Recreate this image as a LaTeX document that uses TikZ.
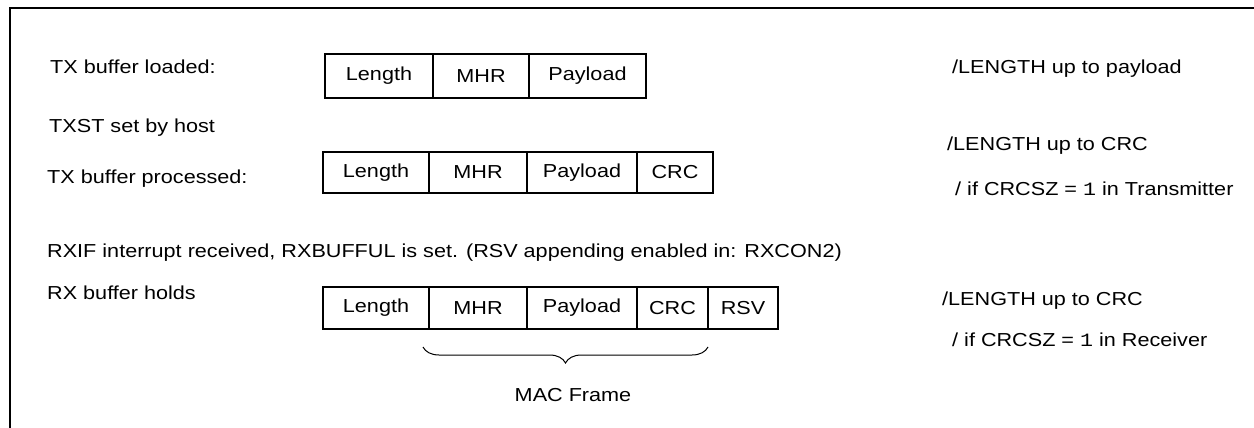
\documentclass[tikz,border=0pt]{standalone}
\usepackage{fontspec}
\setmainfont[FakeStretch=1.15]{Liberation Sans}
\newfontfamily\digitfont[FakeStretch=1.15]{Liberation Mono}
\usetikzlibrary{decorations.pathreplacing}
\begin{document}
\begin{tikzpicture}[x=1pt,y=-1pt,
  font=\fontsize{18.8}{22}\selectfont,
  frameline/.style={line width=2.5pt},
  cell/.style={draw, line width=1.6pt, inner sep=0pt},
  lbl/.style={anchor=base west, inner sep=0pt},
  bracestyle/.style={line width=1pt, decorate, decoration={brace, mirror, amplitude=16pt}}]
\useasboundingbox (0,0) rectangle (1254,428);
% frame (open at right and bottom)
\coordinate (fb) at (10,428);
\coordinate (ftl) at (10,8);
\coordinate (ftr) at (1254,8);
\draw[frameline] (fb) -- (ftl) -- (ftr);

% row 1
\node[lbl] (l1) at (50,74) {TX buffer loaded:};
\node[cell, minimum width=108pt, minimum height=44pt] (a1) at (379,76) {Length};
\node[cell, minimum width=96pt,  minimum height=44pt] (a2) at (481,76) {MHR};
\node[cell, minimum width=117pt, minimum height=44pt] (a3) at (587.5,76) {Payload};
\node[lbl] (r1) at (952,74) {/LENGTH up to payload};

\node[lbl] (l2) at (49,132) {TXST set by host};

% row 2
\node[lbl] (l3) at (47,183) {TX buffer processed:};
\node[cell, minimum width=106pt, minimum height=41pt] (b1) at (376,172.5) {Length};
\node[cell, minimum width=98pt,  minimum height=41pt] (b2) at (478,172.5) {MHR};
\node[cell, minimum width=110pt, minimum height=41pt] (b3) at (582,172.5) {Payload};
\node[cell, minimum width=76pt,  minimum height=41pt] (b4) at (675,172.5) {CRC};
\node[lbl] (r2) at (947,150) {/LENGTH up to CRC};
\node[lbl] (r3) at (955,195) {/ if CRCSZ = {\digitfont 1} in Transmitter};

% row 3
\node[lbl] (l4) at (47,257) {RXIF interrupt received, RXBUFFUL is set. (RSV appending enabled in: RXCON2)};
\node[lbl] (l5) at (47,299) {RX buffer holds};
\node[cell, minimum width=106pt, minimum height=42pt] (c1) at (376,308) {Length};
\node[cell, minimum width=98pt,  minimum height=42pt] (c2) at (478,308) {MHR};
\node[cell, minimum width=110pt, minimum height=42pt] (c3) at (582,308) {Payload};
\node[cell, minimum width=71pt,  minimum height=42pt] (c4) at (672.5,308) {CRC};
\node[cell, minimum width=70pt,  minimum height=42pt] (c5) at (743,308) {RSV};
\node[lbl] (r4) at (942,305) {/LENGTH up to CRC};
\node[lbl] (r5) at (952,346) {/ if CRCSZ = {\digitfont 1} in Receiver};

% brace
\coordinate (bs) at (423,347);
\coordinate (be) at (708,347);
\draw[bracestyle] (bs) -- (be);
\node[anchor=base, inner sep=0pt] (mac) at (573,401) {MAC Frame};
\end{tikzpicture}
\end{document}
